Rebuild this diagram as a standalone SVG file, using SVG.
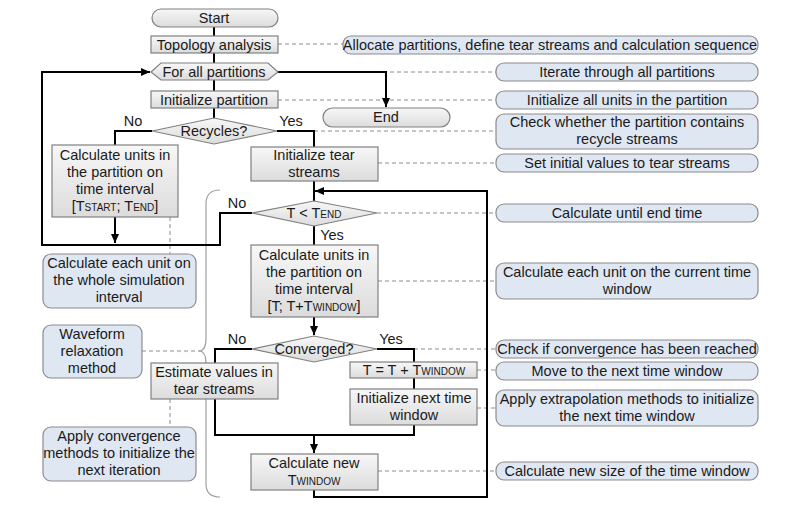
<svg xmlns="http://www.w3.org/2000/svg" width="800" height="505" viewBox="0 0 800 505">
<defs>
<linearGradient id="g" x1="0" y1="0" x2="0" y2="1"><stop offset="0" stop-color="#f7f7f7"/><stop offset="1" stop-color="#dcdcdc"/></linearGradient>
<marker id="a" markerWidth="10" markerHeight="10" refX="9" refY="5" orient="auto" markerUnits="userSpaceOnUse"><path d="M0,1 L9,5 L0,9 Z" fill="#000"/></marker>
<style>
.n{fill:url(#g);stroke:#808080;stroke-width:1.2}
.c{fill:#dfe7f3;stroke:#8c8c8c;stroke-width:1.2}
text{font-family:"Liberation Sans",Arial,sans-serif;font-size:14.5px;fill:#1a1a1a;text-anchor:middle}
.l{fill:none;stroke:#000;stroke-width:2}
.d{fill:none;stroke:#8c8c8c;stroke-width:1;stroke-dasharray:4,3}
.s{font-size:10px}
</style>
</defs>
<rect width="800" height="505" fill="#fff"/>
<g id="connectors">
<path class="d" d="M278,44H343 M278,72H496 M278,100H496 M314,131H496 M378,163H496 M377,213H496 M378,281H496 M414,349H496 M477,370H496 M477,408H496 M378,471H496 M170,217V254 M142,351H200 M170,399V427"/>
<path d="M220,190 Q206,190 206,204 V338 Q206,351 199,351 Q206,351 206,364 V484 Q206,497 220,497" fill="none" stroke="#a0a0a0" stroke-width="1.2"/>
<path class="l" d="M214,27V36 M214,53V63 M214,80V91 M214,108V118"/>
<path class="l" d="M278,72H386V107" marker-end="url(#a)"/>
<path class="l" d="M152,131H115V145 M277,131H314V147 M314,181V201"/>
<path class="l" d="M115,217V243" marker-end="url(#a)"/>
<path class="l" d="M252,213H220V245H42V72H150" marker-end="url(#a)"/>
<path class="l" d="M314,226V245"/>
<path class="l" d="M314,317V335" marker-end="url(#a)"/>
<path class="l" d="M252,349H215V435H414V349H377 M414,378V389"/>
<path class="l" d="M314,435V453" marker-end="url(#a)"/>
<path class="l" d="M314,490V497H487V191H315" marker-end="url(#a)"/>
</g>
<g id="start"><rect class="n" x="152" y="9" width="126" height="18" rx="9"/><text x="214" y="23">Start</text></g>
<g id="topology"><rect class="n" x="151" y="36" width="127" height="17"/><text x="214" y="50">Topology analysis</text></g>
<g id="forall"><path class="n" d="M151,72 L161,63 H268 L278,72 L268,80 H161 Z"/><text x="214" y="77">For all partitions</text></g>
<g id="initpart"><rect class="n" x="151" y="91" width="127" height="17"/><text x="214" y="105">Initialize partition</text></g>
<g id="end"><rect class="n" x="323" y="108" width="127" height="19" rx="9.5"/><text x="386" y="122">End</text></g>
<g id="recycles"><path class="n" d="M152,131 L214,118 L277,131 L214,144 Z"/><text x="214" y="136">Recycles?</text><text x="133" y="126">No</text><text x="291" y="126">Yes</text></g>
<g id="calcwhole"><rect class="n" x="52" y="145" width="126" height="72"/><text x="115" y="160">Calculate units in</text><text x="115" y="177">the partition on</text><text x="115" y="194">time interval</text><text x="115" y="211">[T<tspan class="s">START</tspan>; T<tspan class="s">END</tspan>]</text></g>
<g id="inittear"><rect class="n" x="251" y="147" width="127" height="34"/><text x="314" y="160">Initialize tear</text><text x="314" y="177">streams</text></g>
<g id="tlt"><path class="n" d="M252,213 L314,201 L377,213 L314,226 Z"/><text x="314" y="218">T &lt; T<tspan class="s">END</tspan></text><text x="237" y="208">No</text><text x="332" y="240">Yes</text></g>
<g id="calcwin"><rect class="n" x="251" y="245" width="127" height="72"/><text x="314" y="260">Calculate units in</text><text x="314" y="277">the partition on</text><text x="314" y="294">time interval</text><text x="314" y="311">[T; T+T<tspan class="s">WINDOW</tspan>]</text></g>
<g id="converged"><path class="n" d="M252,349 L314,336 L377,349 L314,362 Z"/><text x="314" y="354">Converged?</text><text x="237" y="344">No</text><text x="391" y="344">Yes</text></g>
<g id="estimate"><rect class="n" x="151" y="363" width="127" height="36"/><text x="214" y="377">Estimate values in</text><text x="214" y="394">tear streams</text></g>
<g id="tinc"><rect class="n" x="350" y="362" width="127" height="16"/><text x="414" y="375">T = T + T<tspan class="s">WINDOW</tspan></text></g>
<g id="initnext"><rect class="n" x="350" y="389" width="127" height="36"/><text x="414" y="403">Initialize next time</text><text x="414" y="420">window</text></g>
<g id="calcnew"><rect class="n" x="251" y="454" width="127" height="36"/><text x="314" y="468">Calculate new</text><text x="314" y="485">T<tspan class="s">WINDOW</tspan></text></g>
<g id="c1"><rect class="c" x="343" y="36" width="415" height="18" rx="8"/><text x="550" y="50">Allocate partitions, define tear streams and calculation sequence</text></g>
<g id="c2"><rect class="c" x="496" y="63" width="262" height="18" rx="8"/><text x="627" y="77">Iterate through all partitions</text></g>
<g id="c3"><rect class="c" x="496" y="91" width="262" height="18" rx="8"/><text x="627" y="105">Initialize all units in the partition</text></g>
<g id="c4"><rect class="c" x="496" y="114" width="262" height="35" rx="8"/><text x="627" y="127">Check whether the partition contains</text><text x="627" y="144">recycle streams</text></g>
<g id="c5"><rect class="c" x="496" y="154" width="262" height="18" rx="8"/><text x="627" y="168">Set initial values to tear streams</text></g>
<g id="c6"><rect class="c" x="496" y="204" width="262" height="18" rx="8"/><text x="627" y="218">Calculate until end time</text></g>
<g id="c7"><rect class="c" x="496" y="263" width="262" height="36" rx="8"/><text x="627" y="277">Calculate each unit on the current time</text><text x="627" y="294">window</text></g>
<g id="c8"><rect class="c" x="496" y="340" width="262" height="18" rx="8"/><text x="627" y="354">Check if convergence has been reached</text></g>
<g id="c9"><rect class="c" x="496" y="362" width="262" height="18" rx="8"/><text x="627" y="376">Move to the next time window</text></g>
<g id="c10"><rect class="c" x="496" y="390" width="262" height="36" rx="8"/><text x="627" y="404">Apply extrapolation methods to initialize</text><text x="627" y="421">the next time window</text></g>
<g id="c11"><rect class="c" x="496" y="462" width="262" height="18" rx="8"/><text x="627" y="476">Calculate new size of the time window</text></g>
<g id="c12"><rect class="c" x="43" y="254" width="153" height="54" rx="8"/><text x="119" y="268">Calculate each unit on</text><text x="119" y="285">the whole simulation</text><text x="119" y="302">interval</text></g>
<g id="c13"><rect class="c" x="43" y="325" width="99" height="53" rx="8"/><text x="92" y="339">Waveform</text><text x="92" y="356">relaxation</text><text x="92" y="373">method</text></g>
<g id="c14"><rect class="c" x="43" y="427" width="153" height="54" rx="8"/><text x="119" y="441">Apply convergence</text><text x="119" y="458">methods to initialize the</text><text x="119" y="475">next iteration</text></g>
</svg>
